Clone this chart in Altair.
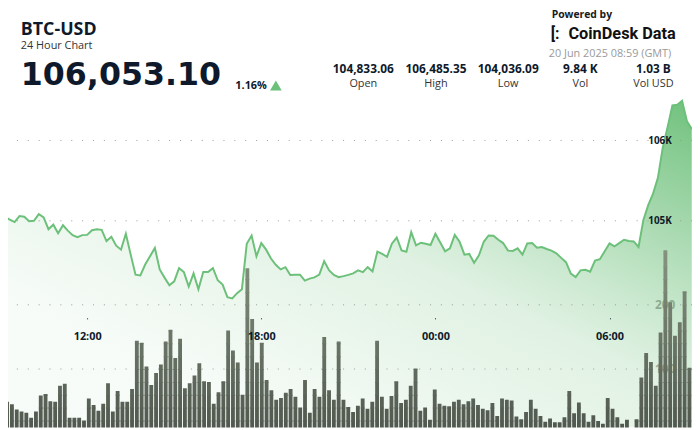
import altair as alt
import pandas as pd

# ---------------- data ----------------
PRICE = [105059, 105047, 105016, 104985, 105059, 105050, 104994, 105001, 105084, 105043,
         104895, 104952, 104846, 104945, 104878, 104822, 104797, 104822, 104825, 104883,
         104895, 104887, 104748, 104801, 104690, 104641, 104838, 104579, 104330, 104321,
         104456, 104558, 104662, 104395, 104293, 104198, 104247, 104411, 104362, 104182,
         104346, 104149, 104362, 104362, 104411, 104260, 104207, 104050, 104034, 104100,
         104149, 104715, 104817, 104558, 104723, 104641, 104530, 104453, 104395, 104423,
         104325, 104330, 104330, 104256, 104280, 104296, 104330, 104497, 104386, 104327,
         104299, 104312, 104327, 104346, 104383, 104362, 104423, 104370, 104616, 104588,
         104551, 104715, 104792, 104632, 104616, 104859, 104694, 104727, 104715, 104699,
         104838, 104731, 104620, 104657, 104825, 104739, 104579, 104588, 104477, 104571,
         104739, 104817, 104813, 104764, 104723, 104629, 104625, 104657, 104579, 104718,
         104723, 104665, 104674, 104649, 104629, 104595, 104539, 104485, 104342, 104300,
         104383, 104391, 104367, 104506, 104522, 104620, 104718, 104681, 104723, 104764,
         104748, 104743, 104674, 105010, 105194, 105338, 105535, 105911, 106166, 106436,
         106445, 106494, 106240, 106141]

VOLUME = [50,
          49, 45, 37, 34, 32, 24, 34, 59, 61, 50,
          49, 74, 77, 24, 24, 24, 20, 54, 44, 35,
          46, 78, 34, 66, 49, 49, 69, 144, 141, 104,
          75, 94, 107, 143, 161, 117, 147, 70, 78, 90,
          109, 81, 80, 46, 64, 81, 160, 129, 110, 60,
          257, 178, 110, 141, 83, 67, 52, 55, 63, 69,
          57, 40, 83, 32, 69, 57, 150, 67, 52, 143, 52,
          41, 33, 43, 54, 38, 49, 144, 57, 38, 58,
          81, 47, 52, 74, 101, 35, 40, 21, 68, 46,
          43, 42, 49, 52, 45, 50, 54, 44, 38, 36,
          47, 27, 54, 52, 51, 26, 22, 33, 52, 38,
          27, 18, 23, 17, 17, 25, 66, 31, 48, 31,
          18, 28, 19, 15, 55, 38, 25, 15, 21, 2,
          22, 87, 125, 111, 74, 157, 285, 204, 152, 173, 221, 102]

START = "2025-06-19T09:00:00Z"
STEP_MIN = 10
PRICE_TICKS = [105000, 106000]
VOL_TICKS = [100, 200]
STAT_VALUES = ["104,833.06", "106,485.35", "104,036.09", "9.84 K", "1.03 B"]
STAT_LABELS = ["Open", "High", "Low", "Vol", "Vol USD"]
SYMBOL = "BTC-USD"
SUBTITLE = "24 Hour Chart"
LAST = "106,053.10"
CHANGE = "1.16%"
STAMP = "20 Jun 2025 08:59 (GMT)"

# ---------------- layout ----------------
W, H = 692, 422
DARK = "#0e1a2b"
GREEN = "#6cc07a"
FONT = "Open Sans"
PRICE_DOMAIN = [102427, 107618]
VOL_DOMAIN = [8.9, 658.2]
IDX_DOMAIN = [1.584, 143.941]
T_DOMAIN = [alt.DateTime(year=2025, month=6, date=19, hours=9, minutes=16, seconds=21, utc=True),
            alt.DateTime(year=2025, month=6, date=20, hours=8, minutes=50, seconds=30, utc=True)]
X_TICKS = [alt.DateTime(year=2025, month=6, date=19, hours=12, utc=True),
           alt.DateTime(year=2025, month=6, date=19, hours=18, utc=True),
           alt.DateTime(year=2025, month=6, date=20, hours=0, utc=True),
           alt.DateTime(year=2025, month=6, date=20, hours=6, utc=True)]
STAT_X = [359.5, 433, 506, 579, 653]

t0 = pd.Timestamp(START)
times = [(t0 + pd.Timedelta(minutes=STEP_MIN * i)).strftime("%Y-%m-%dT%H:%M:%SZ") for i in range(len(PRICE))]
price_df = pd.DataFrame({"t": times, "price": PRICE})

# bars split in short stacked pieces so the shade follows the height (as in the original)
rows = []
for i, v in enumerate(VOLUME):
    lo = 0
    while lo < v:
        hi = min(lo + 20, v)
        rows.append({"idx": i, "idx2": i + 0.8, "lo": (lo - 1.5) if lo > 0 else 0,
                     "hi": hi, "mid": (lo + hi) / 2})
        lo += 20
bar_df = pd.DataFrame(rows)

xs = alt.Scale(type="utc", domain=T_DOMAIN)
ys = alt.Scale(domain=PRICE_DOMAIN, zero=False, nice=False)
vs = alt.Scale(domain=VOL_DOMAIN, zero=False, nice=False)
ixs = alt.Scale(domain=IDX_DOMAIN, zero=False, nice=False)


def g(a, o):
    return alt.GradientStop(color=f"rgba(100,188,114,{a})", offset=o)


area = alt.Chart(price_df).mark_area(
    clip=True,
    fill=alt.Gradient(gradient="linear", x1=1, y1=0, x2=0.2, y2=0.8,
                      stops=[g(0.92, 0), g(0.55, 0.27), g(0.33, 0.44), g(0.2, 0.56),
                             g(0.1, 0.85), g(0.05, 1)])
).encode(
    x=alt.X("t:T", scale=xs, axis=None),
    y=alt.Y("price:Q", scale=ys, axis=None),
    y2=alt.datum(PRICE_DOMAIN[0]),
)

pgrid = alt.Chart(pd.DataFrame({"p": PRICE_TICKS})).mark_rule(
    strokeDash=[1, 10], color="#9a9a9a", strokeWidth=1
).encode(y=alt.Y("p:Q", scale=ys, axis=None))

vgrid = alt.Chart(pd.DataFrame({"v": VOL_TICKS})).mark_rule(
    strokeDash=[1, 10], color="#9a9a9a", strokeWidth=1
).encode(y=alt.Y("v:Q", scale=vs, axis=alt.Axis(
    values=VOL_TICKS, orient="right", offset=-38, domain=False, ticks=False, tickSize=0,
    grid=False, labelPadding=0, labelAlign="left", labelBaseline="middle",
    labelFont=FONT, labelFontSize=12, labelFontWeight="bold", labelColor="#a3a3a3",
    labelFlush=False, labelOverlap=False, title=None, zindex=0)))

bars = alt.Chart(bar_df).mark_bar(clip=True, strokeWidth=0).encode(
    x=alt.X("idx:Q", scale=ixs, axis=None),
    x2="idx2:Q",
    y=alt.Y("hi:Q", scale=vs, axis=None),
    y2="lo:Q",
    color=alt.Color("mid:Q", scale=alt.Scale(domain=[0, 290], range=["#50574e", "#86947f"]), legend=None),
)

line = alt.Chart(price_df).mark_line(clip=True, color=GREEN, strokeWidth=2).encode(
    x=alt.X("t:T", scale=xs, axis=alt.Axis(
        values=X_TICKS, labelExpr="utcFormat(datum.value, '%H:%M')", orient="bottom",
        offset=-111, domain=False, grid=False, ticks=True, tickSize=1, tickWidth=1,
        tickColor=DARK, labelPadding=12, labelFont=FONT, labelFontSize=11,
        labelFontWeight="bold", labelColor=DARK, labelFlush=False, labelOverlap=False,
        title=None, zindex=1)),
    y=alt.Y("price:Q", scale=ys, axis=alt.Axis(
        values=PRICE_TICKS, labelExpr="format(datum.value / 1000, 'd') + 'K'", orient="left",
        offset=-671, domain=False, ticks=False, tickSize=0, grid=False, labelPadding=0,
        labelAlign="right", labelBaseline="middle", labelFont=FONT, labelFontSize=10,
        labelFontWeight="bold", labelColor=DARK, labelFlush=False, labelOverlap=False,
        title=None, zindex=1)),
)


def txt(s, x, y, size, weight="normal", color=DARK, align="left", font=FONT):
    return alt.Chart(alt.Data(values=[{}])).mark_text(
        text=s, fontSize=size, fontWeight=weight, color=color, align=align,
        baseline="alphabetic", font=font
    ).encode(x=alt.value(x), y=alt.value(y))


stats_df = pd.DataFrame({"value": STAT_VALUES, "label": STAT_LABELS, "cx": STAT_X})
stat_vals = alt.Chart(stats_df).mark_text(
    fontSize=12, fontWeight="bold", color=DARK, align="center", baseline="alphabetic", font=FONT
).encode(x=alt.X("cx:Q", scale=None), y=alt.value(63.7), text="value:N")
stat_labs = alt.Chart(stats_df).mark_text(
    fontSize=11, color="#333333", align="center", baseline="alphabetic", font=FONT
).encode(x=alt.X("cx:Q", scale=None), y=alt.value(77), text="label:N")

tri = alt.Chart(alt.Data(values=[{}])).mark_point(
    shape="triangle-up", filled=True, color=GREEN, size=140, opacity=1
).encode(x=alt.value(271), y=alt.value(76))

texts = [
    txt(SYMBOL, 13, 25.3, 18, "bold"),
    txt(SUBTITLE, 13, 38.7, 11, color="#333333"),
    txt(LAST, 13, 75.3, 32, "bold", font="DejaVu Sans"),
    txt(CHANGE, 230, 79.3, 11, "bold"),
    tri,
    txt("Powered by", 550, 7.5, 10.5, "bold", color="#1a1a1a"),
    txt("[:", 549, 28.5, 16, "bold", color="#111111", font="Roboto"),
    txt("CoinDesk Data", 567, 28.5, 16.5, "bold", color="#111111", font="Roboto"),
    txt(STAMP, 671, 47, 11, color="#9a9a9a", align="right"),
    stat_vals,
    stat_labs,
]

chart = alt.layer(
    area, pgrid, vgrid, bars, line, *texts
).resolve_scale(
    x="independent", y="independent"
).properties(
    width=W, height=H, padding=0, autosize=alt.AutoSizeParams(type="none"), background="white"
).configure_view(stroke=None)

chart.save("out.html", embed_options={"renderer": "svg", "actions": False})
